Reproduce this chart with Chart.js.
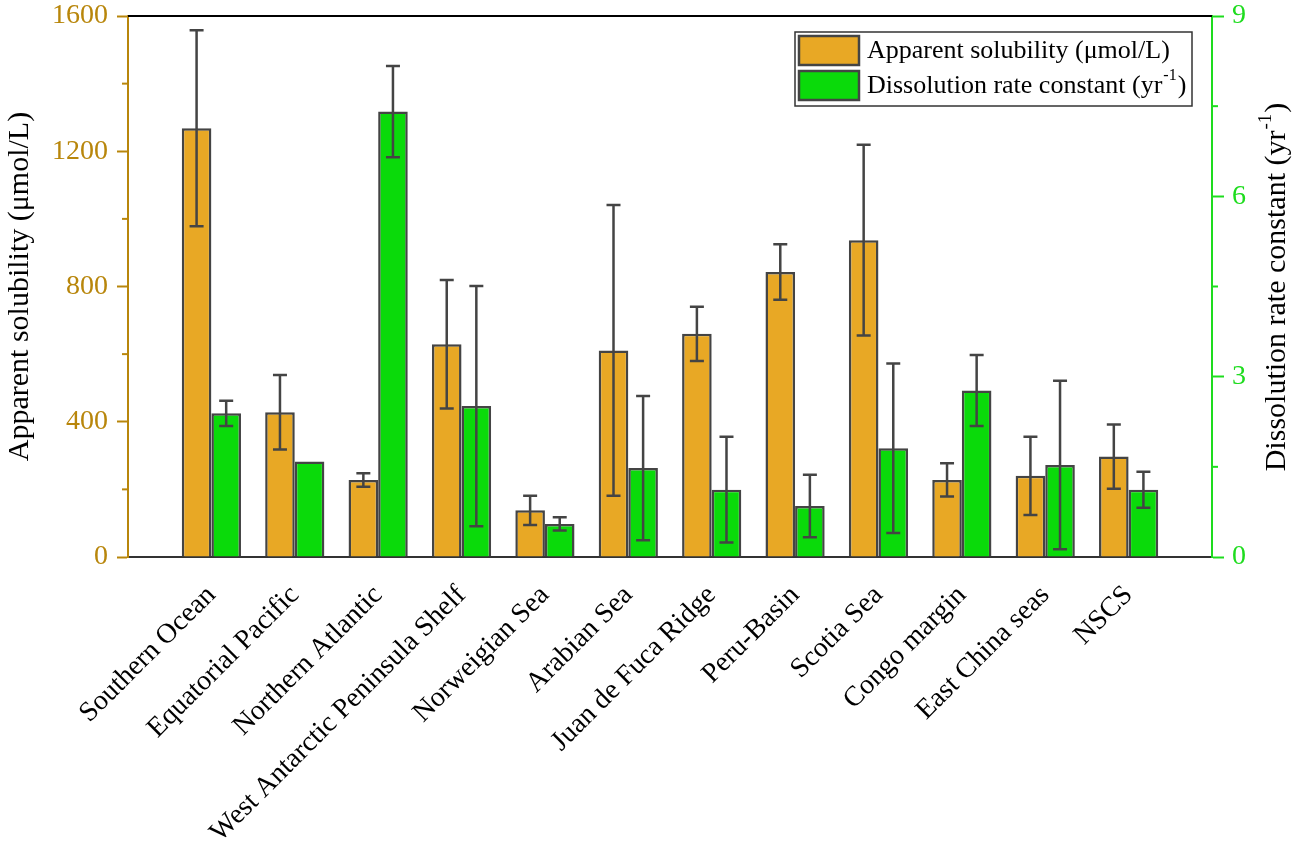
<!DOCTYPE html>
<html>
<head>
<meta charset="utf-8">
<script src="https://cdn.jsdelivr.net/npm/chart.js@4.4.0/dist/chart.umd.min.js"></script>
<style>
html, body { margin: 0; padding: 0; background: #fff; }
#wrap { width: 1299px; height: 855px; }
</style>
</head>
<body>
<div id="wrap"><canvas id="chart" width="1299" height="855"></canvas></div>
<script>
// categories and values
var categories = ["Southern Ocean", "Equatorial Pacific", "Northern Atlantic", "West Antarctic Peninsula Shelf",
  "Norweigian Sea", "Arabian Sea", "Juan de Fuca Ridge", "Peru-Basin", "Scotia Sea",
  "Congo margin", "East China seas", "NSCS"];
var solubility    = [1268, 428, 228, 629, 138, 611, 660, 843, 937, 228, 240, 297];
var solubilityErr = [290, 110, 20, 190, 43, 430, 80, 82, 282, 49, 116, 95];
var rateConst     = [2.39, 1.59, 7.41, 2.51, 0.55, 1.48, 1.12, 0.85, 1.81, 2.77, 1.53, 1.12];
var rateErr       = [0.21, null, 0.76, 2.0, 0.11, 1.2, 0.88, 0.52, 1.41, 0.59, 1.4, 0.3];
var leftTicks  = [0, 400, 800, 1200, 1600];
var rightTicks = [0, 3, 6, 9];

var ORANGE = "#E8A825", GREEN = "#0ADA0A", EDGE = "#444444";
var LEFT_COL = "#B8860B", RIGHT_COL = "#1EDC1E";
var SERIF = "'Liberation Serif', 'Times New Roman', serif";

// one empty slot each side, like the origin plot
function pad(arr) { return [null].concat(arr, [null]); }
var labels = [""].concat(categories, [""]);

// draws "text" then a raised "-1" and ")"
function drawSup(ctx, before, sup, after, x, y, size) {
  ctx.font = size + "px " + SERIF;
  ctx.fillText(before, x, y);
  var w = ctx.measureText(before).width;
  ctx.font = Math.round(size * 0.62) + "px " + SERIF;
  ctx.fillText(sup, x + w + 1, y - size * 0.38);
  var w2 = ctx.measureText(sup).width;
  ctx.font = size + "px " + SERIF;
  ctx.fillText(after, x + w + w2 + 2, y);
}

var extras = {
  id: "extras",
  afterDatasetsDraw: function(chart) {
    var ctx = chart.ctx;
    var sets = [[0, solubility, solubilityErr], [1, rateConst, rateErr]];
    ctx.save();
    ctx.strokeStyle = EDGE;
    ctx.lineWidth = 2.5;
    sets.forEach(function(s) {
      var meta = chart.getDatasetMeta(s[0]);
      var sc = chart.scales[meta.yAxisID];
      for (var i = 0; i < categories.length; i++) {
        var e = s[2][i];
        if (e == null) continue;
        var el = meta.data[i + 1];
        var x = el.x;
        var yt = sc.getPixelForValue(s[1][i] + e);
        var yb = sc.getPixelForValue(Math.max(s[1][i] - e, 0));
        ctx.beginPath();
        ctx.moveTo(x, yt); ctx.lineTo(x, yb);
        ctx.moveTo(x - 7, yt); ctx.lineTo(x + 7, yt);
        ctx.moveTo(x - 7, yb); ctx.lineTo(x + 7, yb);
        ctx.stroke();
      }
    });
    ctx.restore();
  },
  afterDraw: function(chart) {
    var ctx = chart.ctx, a = chart.chartArea;
    ctx.save();
    // top frame line
    ctx.strokeStyle = "#000";
    ctx.lineWidth = 2;
    ctx.beginPath();
    ctx.moveTo(a.left, a.top); ctx.lineTo(a.right, a.top);
    ctx.stroke();

    // minor ticks half way between the major ones
    [["y", leftTicks, LEFT_COL, -1], ["y1", rightTicks, RIGHT_COL, 1]].forEach(function(m) {
      var sc = chart.scales[m[0]];
      var x0 = m[3] < 0 ? a.left : a.right;
      ctx.strokeStyle = m[2];
      ctx.lineWidth = 2;
      for (var i = 0; i < m[1].length - 1; i++) {
        var yy = sc.getPixelForValue((m[1][i] + m[1][i + 1]) / 2);
        ctx.beginPath();
        ctx.moveTo(x0, yy); ctx.lineTo(x0 + m[3] * 6, yy);
        ctx.stroke();
      }
    });

    // right axis title, reading bottom to top
    ctx.fillStyle = "#000";
    ctx.textBaseline = "middle";
    var fs = 30;
    ctx.font = fs + "px " + SERIF;
    var t1 = "Dissolution rate constant (yr", tw = ctx.measureText(t1).width;
    ctx.font = Math.round(fs * 0.62) + "px " + SERIF;
    var sw = ctx.measureText("-1").width;
    ctx.font = fs + "px " + SERIF;
    var total = tw + sw + 3 + ctx.measureText(")").width;
    ctx.translate(1277, (a.top + a.bottom) / 2);
    ctx.rotate(-Math.PI / 2);
    ctx.textAlign = "left";
    drawSup(ctx, t1, "-1", ")", -total / 2, 0, fs);
    ctx.setTransform(1, 0, 0, 1, 0, 0);

    // legend box
    var bx = a.right - 20, by = a.top + 16, bw = 397, bh = 74;
    ctx.fillStyle = "#fff";
    ctx.fillRect(bx - bw, by, bw, bh);
    ctx.strokeStyle = "#333";
    ctx.lineWidth = 1.5;
    ctx.strokeRect(bx - bw, by, bw, bh);
    var rows = [[ORANGE, "Apparent solubility (\u03bcmol/L)"], [GREEN, "Dissolution rate constant (yr"]];
    rows.forEach(function(r, k) {
      var sy = by + 4 + k * 35;
      ctx.fillStyle = r[0];
      ctx.fillRect(bx - bw + 4, sy, 60, 29);
      ctx.strokeStyle = EDGE;
      ctx.lineWidth = 2.5;
      ctx.strokeRect(bx - bw + 4, sy, 60, 29);
      ctx.fillStyle = "#000";
      ctx.textAlign = "left";
      ctx.textBaseline = "middle";
      if (k === 0) {
        ctx.font = "26px " + SERIF;
        ctx.fillText(r[1], bx - bw + 72, sy + 15);
      } else {
        drawSup(ctx, r[1], "-1", ")", bx - bw + 72, sy + 15, 26);
      }
    });
    ctx.restore();
  }
};

function plain(v) { return String(v); }

new Chart(document.getElementById("chart"), {
  type: "bar",
  data: {
    labels: labels,
    datasets: [{
      label: "Apparent solubility (\u03bcmol/L)",
      data: pad(solubility),
      backgroundColor: ORANGE,
      borderColor: EDGE,
      borderWidth: 2.5,
      yAxisID: "y",
      categoryPercentage: 0.71,
      barPercentage: 1.0
    }, {
      label: "Dissolution rate constant (yr-1)",
      data: pad(rateConst),
      backgroundColor: GREEN,
      borderColor: EDGE,
      borderWidth: 2.5,
      yAxisID: "y1",
      categoryPercentage: 0.71,
      barPercentage: 1.0
    }]
  },
  options: {
    responsive: false,
    animation: false,
    layout: { padding: { top: 16, left: 0, right: 0, bottom: 0 } },
    plugins: { legend: { display: false }, tooltip: { enabled: false } },
    scales: {
      x: {
        offset: false,
        grid: { display: false, drawTicks: false },
        border: { display: true, color: "#333", width: 2 },
        ticks: {
          autoSkip: false, maxRotation: 45, minRotation: 45,
          color: "#000", padding: 22,
          font: { family: SERIF, size: 28 }
        },
        afterFit: function(s) { s.height = 298; }
      },
      y: {
        position: "left",
        min: 0, max: 1600,
        afterBuildTicks: function(s) { s.ticks = leftTicks.map(function(v) { return { value: v }; }); },
        grid: { drawOnChartArea: false, tickLength: 11, tickColor: LEFT_COL, tickWidth: 2 },
        border: { color: LEFT_COL, width: 2 },
        ticks: { color: LEFT_COL, padding: 9, font: { family: SERIF, size: 28 }, callback: plain },
        title: {
          display: true, text: "Apparent solubility (\u03bcmol/L)", color: "#000",
          font: { family: SERIF, size: 30 }, padding: { top: 2, bottom: 0 }
        },
        afterFit: function(s) { s.width = 128; s.paddingTop = 0; s.paddingBottom = 0; }
      },
      y1: {
        position: "right",
        min: 0, max: 9,
        afterBuildTicks: function(s) { s.ticks = rightTicks.map(function(v) { return { value: v }; }); },
        grid: { drawOnChartArea: false, tickLength: 12, tickColor: RIGHT_COL, tickWidth: 2 },
        border: { color: RIGHT_COL, width: 2 },
        ticks: { color: RIGHT_COL, padding: 8, font: { family: SERIF, size: 28 }, callback: plain },
        afterFit: function(s) { s.width = 87; s.paddingTop = 0; s.paddingBottom = 0; }
      }
    }
  },
  plugins: [extras]
});
</script>
</body>
</html>
